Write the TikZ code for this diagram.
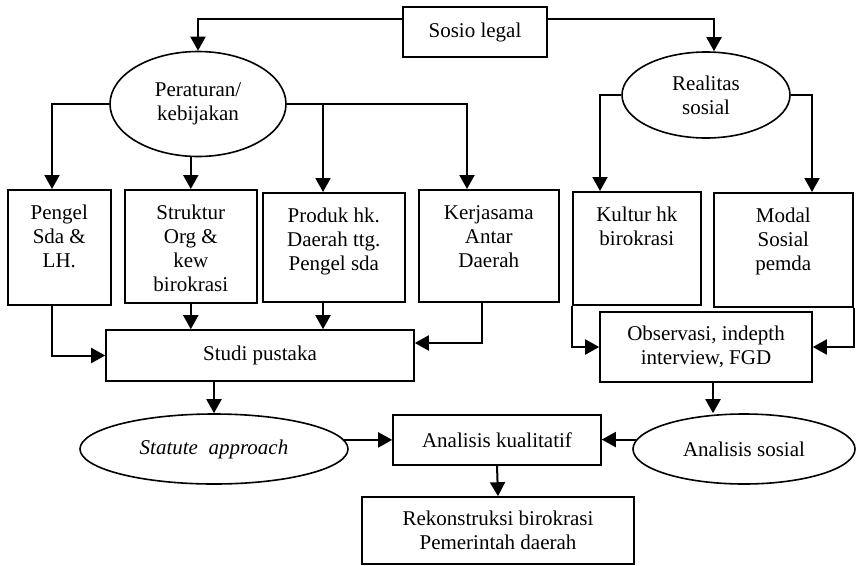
\documentclass[tikz,border=0pt]{standalone}
\usepackage{fontspec}
\setmainfont{Liberation Serif}
\usetikzlibrary{arrows.meta,shapes.geometric}
\newcommand{\tbox}[3]{\parbox[c][#2][t]{#1}{\centering\rule{0pt}{30pt}#3}}
\begin{document}
\begin{tikzpicture}[x=1pt,y=-1pt,
  every node/.style={font=\fontsize{21}{24}\selectfont},
  box/.style={draw, line width=1.6pt, inner sep=0pt, rectangle},
  oval/.style={draw, line width=1.6pt, ellipse, inner sep=0pt, align=center},
  arr/.style={line width=2pt, -{Triangle[length=14pt,width=15pt]}},
  ln/.style={line width=2pt}]
\useasboundingbox (0,0) rectangle (858,565);

% top
\node[box, minimum width=144pt, minimum height=50pt] (sosio) at (475,32) {Sosio legal};
\node[oval, minimum width=176pt, minimum height=105pt] (per) at (198,104) {Peraturan/\\kebijakan};
\node[oval, minimum width=168pt, minimum height=86pt] (real) at (706,95) {Realitas\\sosial};

% row of boxes
\node[box, anchor=north west] (pengel) at (7,189) {\tbox{103pt}{115pt}{Pengel\\Sda \&\\LH.}};
\node[box, anchor=north west] (struktur) at (124,189) {\tbox{132pt}{113pt}{Struktur\\Org \&\\kew\\birokrasi}};
\node[box, anchor=north west] (produk) at (262,192) {\tbox{142pt}{109pt}{Produk hk.\\Daerah ttg.\\Pengel sda}};
\node[box, anchor=north west] (kerja) at (418,189) {\tbox{140pt}{112pt}{Kerjasama\\Antar\\Daerah}};
\node[box, anchor=north west] (kultur) at (572,191) {\tbox{128pt}{113pt}{Kultur hk\\birokrasi}};
\node[box, anchor=north west] (modal) at (713,192) {\tbox{139pt}{114pt}{Modal\\Sosial\\pemda}};

% lower
\node[box, minimum width=308pt, minimum height=51pt] (studi) at (260,355.5) {Studi pustaka};
\node[box, align=center, minimum width=212pt, minimum height=70pt] (obs) at (706,347) {Observasi, indepth\\interview, FGD};
\node[oval, minimum width=268pt, minimum height=70pt] (stat) at (214,449) {\textit{Statute\ \ approach}};
\node[oval, minimum width=222pt, minimum height=70pt] (asos) at (744,449) {Analisis sosial};
\node[box, minimum width=208pt, minimum height=50pt] (ak) at (497,440) {Analisis kualitatif};
\node[box, align=center, minimum width=272pt, minimum height=67pt] (rek) at (498,530.5) {Rekonstruksi birokrasi\\Pemerintah daerah};

% connectors
\draw[arr] ([yshift=13pt]sosio.west) -| (per.north);
\draw[arr] ([yshift=13pt]sosio.east) -| ([xshift=8pt]real.north);
\draw[arr] (per.west) -| (pengel.north -| 52,0);
\draw[arr] (struktur.north |- per.south) -- (struktur.north);
\draw[arr] (per.east) -| (kerja.north -| 467,0);
\draw[arr] (per.east -| 323,0) -- (produk.north -| 323,0);
\draw[arr] (real.west) -| (kultur.north -| 600,0);
\draw[arr] (real.east) -| (modal.north -| 812,0);

\draw[arr] (pengel.south -| 52,0) |- (studi.west);
\draw[arr] (struktur.south) -- (struktur.south |- studi.north);
\draw[arr] (produk.south -| 323,0) -- (studi.north -| 323,0);
\draw[arr] (kerja.south -| 482,0) |- (studi.east |- 0,343);
\draw[arr] (kultur.south west) |- (obs.west);
\draw[arr] (modal.south east) |- (obs.east);

\draw[arr] (studi.south -| stat.north) -- (stat.north);
\draw[arr] (obs.south -| 713,0) -- (asos.north -| 713,0);
\draw[arr] (stat.4) -- (stat.4 -| ak.west);
\draw[arr] (asos.175) -- (asos.175 -| ak.east);
\draw[arr] (ak.south) -- (rek.north);
\end{tikzpicture}
\end{document}
